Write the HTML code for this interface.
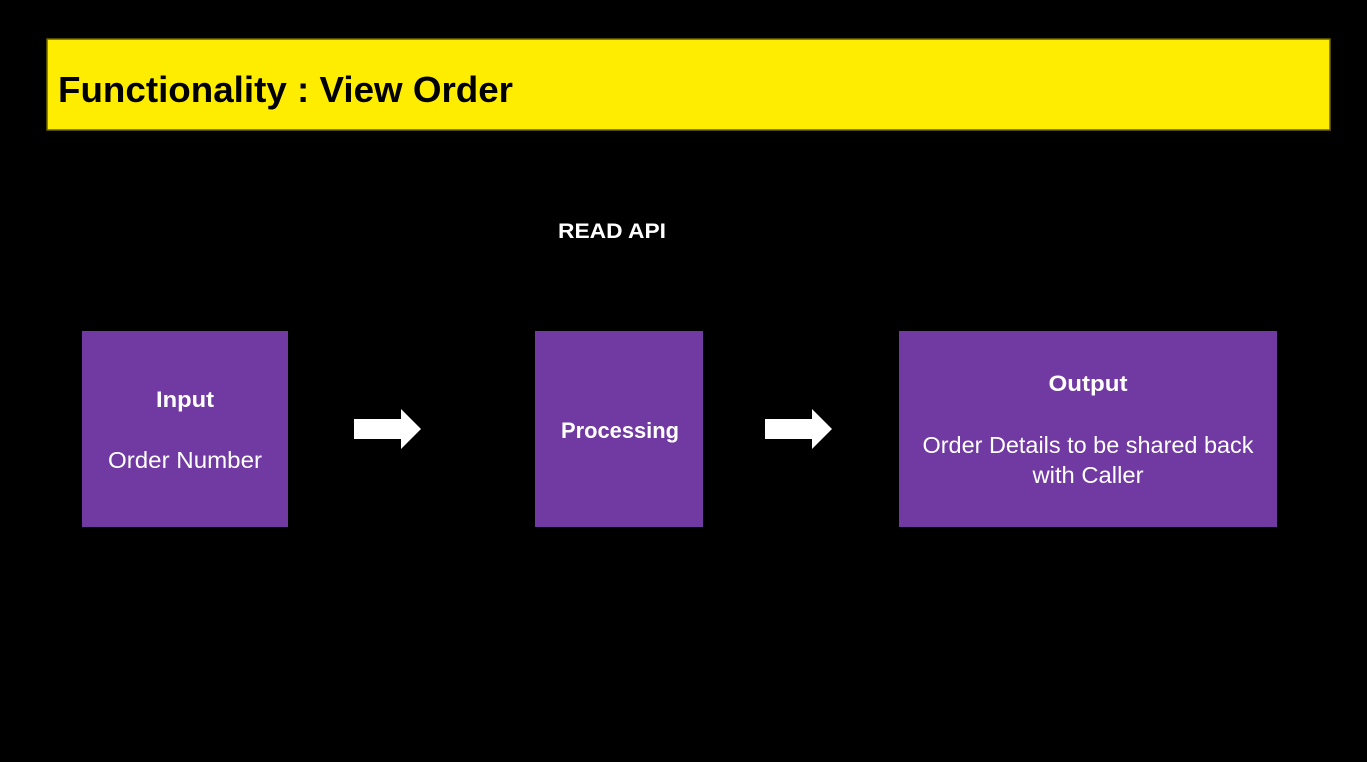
<!DOCTYPE html>
<html><head><meta charset="utf-8"><style>
html,body{margin:0;padding:0;background:#000;width:1367px;height:762px;overflow:hidden}
</style></head><body>
<svg width="1367" height="762" xmlns="http://www.w3.org/2000/svg">
<rect width="1367" height="762" fill="#000"/>
<rect x="47" y="39" width="1283" height="91" fill="#FFED00" stroke="#6b6400" stroke-width="1.5"/>
<text x="58" y="102" font-family="Liberation Sans, sans-serif" font-weight="bold" font-size="36" fill="#000" textLength="455" lengthAdjust="spacingAndGlyphs">Functionality : View Order</text>
<text x="612" y="238" text-anchor="middle" font-family="Liberation Sans, sans-serif" font-weight="bold" font-size="21" fill="#fff" textLength="108" lengthAdjust="spacingAndGlyphs">READ API</text>
<g fill="#7139A2">
<rect x="82" y="331" width="206" height="196"/>
<rect x="535" y="331" width="168" height="196"/>
<rect x="899" y="331" width="378" height="196"/>
</g>
<g font-family="Liberation Sans, sans-serif" fill="#fff" text-anchor="middle" font-size="23">
<text x="185" y="407" font-weight="bold" font-size="22" textLength="58" lengthAdjust="spacingAndGlyphs">Input</text>
<text x="185" y="468" textLength="154" lengthAdjust="spacingAndGlyphs">Order Number</text>
<text x="620" y="438" font-weight="bold" font-size="22" textLength="118" lengthAdjust="spacingAndGlyphs">Processing</text>
<text x="1088" y="391" font-weight="bold" font-size="22" textLength="79" lengthAdjust="spacingAndGlyphs">Output</text>
<text x="1088" y="453" textLength="331" lengthAdjust="spacingAndGlyphs">Order Details to be shared back</text>
<text x="1088" y="483" textLength="111" lengthAdjust="spacingAndGlyphs">with Caller</text>
</g>
<g fill="#fff">
<polygon points="354,419 401,419 401,409 421,429 401,449 401,439 354,439"/>
<polygon points="765,419 812,419 812,409 832,429 812,449 812,439 765,439"/>
</g>
</svg>
</body></html>
